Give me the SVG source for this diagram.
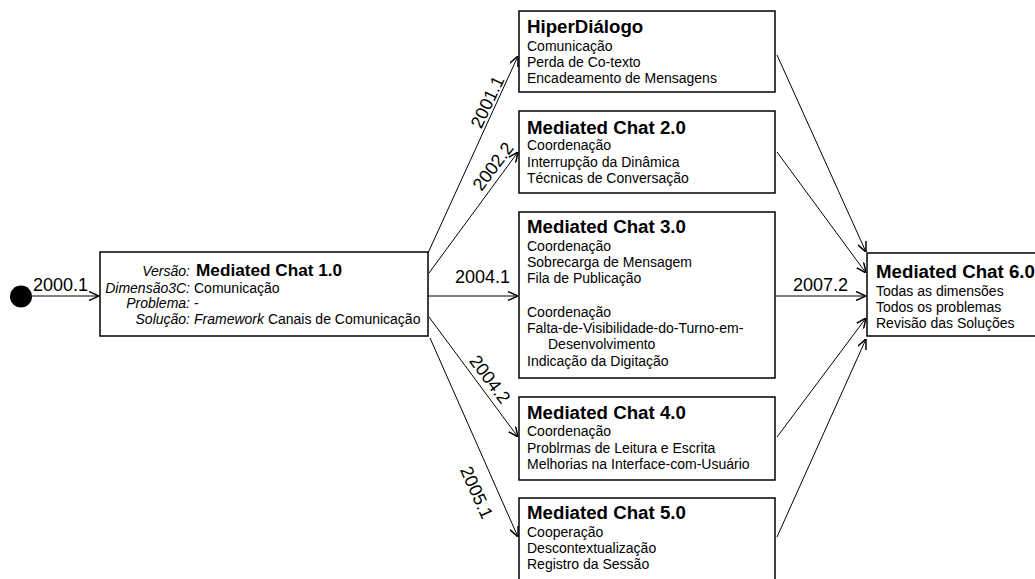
<svg xmlns="http://www.w3.org/2000/svg" width="1035" height="579" viewBox="0 0 1035 579">
<style>
.box{fill:#fff;stroke:#000;stroke-width:1.5}
.t{font-family:"Liberation Sans",Arial,sans-serif;font-size:14px;fill:#000}
.h{font-family:"Liberation Sans",Arial,sans-serif;font-size:18.7px;font-weight:bold;fill:#000}
.h1{font-size:17.2px}
.i{font-style:italic}
.lbl{font-family:"Liberation Sans",Arial,sans-serif;font-size:18px;fill:#000}
.c{stroke:#000;stroke-width:1;fill:none;marker-end:url(#arr)}
</style>
<defs>
<marker id="arr" markerUnits="userSpaceOnUse" viewBox="0 0 10 10" markerWidth="10" markerHeight="10" refX="10" refY="5" orient="auto">
<path d="M0,0.5 L10,5 L0,9.5" fill="none" stroke="#000" stroke-width="1.5"/>
</marker>
</defs>
<rect width="1035" height="579" fill="#fff"/>
<g id="connectors">
<line class="c" x1="32" y1="296" x2="99" y2="296"/>
<line class="c" x1="428" y1="253" x2="518" y2="56"/>
<line class="c" x1="429" y1="273" x2="518" y2="152"/>
<line class="c" x1="428" y1="296" x2="518" y2="296"/>
<line class="c" x1="429" y1="317" x2="518" y2="437"/>
<line class="c" x1="430" y1="338" x2="518" y2="537"/>
<line class="c" x1="777" y1="55" x2="866" y2="252"/>
<line class="c" x1="777" y1="152" x2="866" y2="273"/>
<line class="c" x1="776" y1="296" x2="866" y2="296"/>
<line class="c" x1="777" y1="437" x2="866" y2="318"/>
<line class="c" x1="777" y1="537" x2="866" y2="339"/>
<text class="lbl" x="33" y="291">2000.1</text>
<text class="lbl" x="455" y="283">2004.1</text>
<text class="lbl" x="793" y="291">2007.2</text>
<text class="lbl" text-anchor="middle" transform="translate(493,104.5) rotate(-65)">2001.1</text>
<text class="lbl" text-anchor="middle" transform="translate(498,170) rotate(-53.4)">2002.2</text>
<text class="lbl" text-anchor="middle" transform="translate(485,383) rotate(53.1)">2004.2</text>
<text class="lbl" text-anchor="middle" transform="translate(471,495) rotate(65.9)">2005.1</text>
</g>
<g id="start">
<circle cx="21" cy="296.5" r="11" fill="#000"/>
</g>
<g id="mc1">
<rect class="box" x="100" y="252" width="328" height="84"/>
<text class="t i" x="190" y="276" text-anchor="end">Versão:</text>
<text class="h h1" x="196" y="276">Mediated Chat 1.0</text>
<text class="t i" x="190" y="293" text-anchor="end">Dimensão3C:</text>
<text class="t" x="194" y="293">Comunicação</text>
<text class="t i" x="190" y="308" text-anchor="end">Problema:</text>
<text class="t" x="194" y="308">-</text>
<text class="t i" x="190" y="324" text-anchor="end">Solução:</text>
<text class="t" x="194" y="324"><tspan class="i">Framework</tspan> Canais de Comunicação</text>
</g>
<g id="hiper">
<rect class="box" x="519" y="11" width="256" height="81"/>
<text class="h" x="527" y="33">HiperDiálogo</text>
<text class="t" x="527" y="51">Comunicação</text>
<text class="t" x="527" y="67">Perda de Co-texto</text>
<text class="t" x="527" y="83">Encadeamento de Mensagens</text>
</g>
<g id="mc2">
<rect class="box" x="519" y="111" width="256" height="82"/>
<text class="h" x="527" y="134">Mediated Chat 2.0</text>
<text class="t" x="527" y="150">Coordenação</text>
<text class="t" x="527" y="166.5">Interrupção da Dinâmica</text>
<text class="t" x="527" y="183">Técnicas de Conversação</text>
</g>
<g id="mc3">
<rect class="box" x="519" y="212" width="256" height="166"/>
<text class="h" x="527" y="233">Mediated Chat 3.0</text>
<text class="t" x="527" y="251">Coordenação</text>
<text class="t" x="527" y="267">Sobrecarga de Mensagem</text>
<text class="t" x="527" y="283">Fila de Publicação</text>
<text class="t" x="527" y="317">Coordenação</text>
<text class="t" x="527" y="333">Falta-de-Visibilidade-do-Turno-em-</text>
<text class="t" x="548" y="349">Desenvolvimento</text>
<text class="t" x="527" y="366">Indicação da Digitação</text>
</g>
<g id="mc4">
<rect class="box" x="519" y="397" width="256" height="83"/>
<text class="h" x="527" y="419">Mediated Chat 4.0</text>
<text class="t" x="527" y="436">Coordenação</text>
<text class="t" x="527" y="453">Problrmas de Leitura e Escrita</text>
<text class="t" x="527" y="469">Melhorias na Interface-com-Usuário</text>
</g>
<g id="mc5">
<rect class="box" x="519" y="498" width="256" height="90"/>
<text class="h" x="527" y="519">Mediated Chat 5.0</text>
<text class="t" x="527" y="537">Cooperação</text>
<text class="t" x="527" y="553">Descontextualização</text>
<text class="t" x="527" y="569">Registro da Sessão</text>
</g>
<g id="mc6">
<rect class="box" x="867" y="253" width="180" height="83"/>
<text class="h" x="876" y="278">Mediated Chat 6.0</text>
<text class="t" x="876" y="296">Todas as dimensões</text>
<text class="t" x="876" y="312">Todos os problemas</text>
<text class="t" x="876" y="328">Revisão das Soluções</text>
</g>
</svg>
